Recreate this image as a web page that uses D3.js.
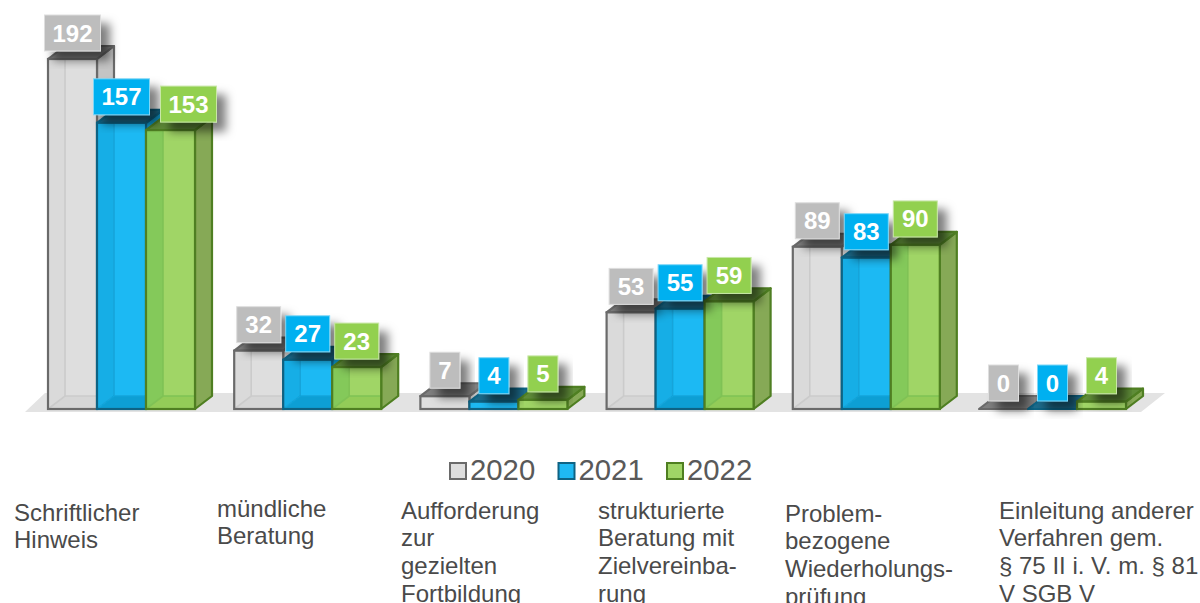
<!DOCTYPE html>
<html><head><meta charset="utf-8">
<script src="https://cdnjs.cloudflare.com/ajax/libs/d3/7.8.5/d3.min.js"></script>
<style>html,body{margin:0;padding:0;background:#fff}svg{display:block}
text{font-family:"Liberation Sans",Arial,sans-serif}</style></head>
<body><svg id="c" width="1200" height="603"></svg>
<script>
const categories=["Schriftlicher Hinweis","mündliche Beratung","Aufforderung zur gezielten Fortbildung","strukturierte Beratung mit Zielvereinbarung","Problembezogene Wiederholungsprüfung","Einleitung anderer Verfahren"];
const categoryLines=[["Schriftlicher","Hinweis"],["mündliche","Beratung"],["Aufforderung","zur","gezielten","Fortbildung"],["strukturierte","Beratung mit","Zielvereinba-","rung"],["Problem-","bezogene","Wiederholungs-","prüfung"],["Einleitung anderer","Verfahren gem.","§ 75 II i. V. m. § 81","V SGB V"]];
const years=["2020","2021","2022"];
const values2020=[192,32,7,53,89,0];
const values2021=[157,27,4,55,83,0];
const values2022=[153,23,5,59,90,4];
const series=[values2020,values2021,values2022];
const palette={
 "2020":{front:"#dedede",left:"#dadada",floor:"#d6d6d6",inner:"#cbcbcb",side:"#c4c4c4",top:"#7f7f7f",stroke:"#6a6a6a",label:"#bdbdbd",edge:"#dedede"},
 "2021":{front:"#1fb9f3",left:"#14aee6",floor:"#109fd4",inner:"#12a4da",side:"#1095c8",top:"#1a6a8a",stroke:"#0f6384",label:"#00b0f0",edge:"#7fd7f7"},
 "2022":{front:"#a0d566",left:"#84c95a",floor:"#93cc58",inner:"#7fc255",side:"#86a956",top:"#5f8c38",stroke:"#4f7f21",label:"#92d050",edge:"#c8e7a7"}
};
const svg=d3.select("#c");
const defs=svg.append("defs");
const f=defs.append("filter").attr("id","sh").attr("x","-40%").attr("y","-40%").attr("width","190%").attr("height","190%");
f.append("feDropShadow").attr("dx",9).attr("dy",9).attr("stdDeviation",5).attr("flood-color","#000").attr("flood-opacity",.5);
const soft=defs.append("filter").attr("id","soft").attr("x","-5%").attr("y","-5%").attr("width","110%").attr("height","110%");
soft.append("feGaussianBlur").attr("stdDeviation",.45);

const x0=d3.scaleBand().domain(d3.range(categories.length)).range([6.5,1123.7]);
const x1=d3.scaleBand().domain(years).range([41.5,41.5+147]);
const y=d3.scaleLinear().domain([0,192]).range([409,59]);
const dx=17,dy=-13;

const base=y(0);
svg.append("path").attr("d",d3.line()([[25,412],[45,393],[1165,393],[1141,412]])+"Z").attr("fill","#e3e3e3");

const marks=svg.append("g").attr("filter","url(#soft)");
const poly=d3.line();
categories.forEach((c,i)=>{
  years.forEach((yr,s)=>{
    const v=series[s][i],p=palette[yr],xl=x0(i)+x1(yr),w=x1.bandwidth(),xr=xl+w,t=y(v);
    const g=marks.append("g");
    const sw=2.2;
    const face=(pts,fill)=>g.append("path").attr("d",poly(pts)+"Z").attr("fill",fill).attr("stroke",p.stroke).attr("stroke-width",sw).attr("stroke-linejoin","round");
    face([[xr,base],[xr+dx,base+dy],[xr+dx,t+dy],[xr,t]],p.side);
    face([[xl,t],[xl+dx,t+dy],[xr+dx,t+dy],[xr,t]],p.top);
    g.append("rect").attr("x",xl).attr("y",t).attr("width",w).attr("height",base-t).attr("fill",p.front);
    if(base-t>Math.abs(dy)){
      g.append("path").attr("d",poly([[xl,t],[xl+dx,t],[xl+dx,base+dy],[xl,base]])+"Z").attr("fill",p.left);
      g.append("path").attr("d",poly([[xl,base],[xl+dx,base+dy],[xr,base+dy],[xr,base]])+"Z").attr("fill",p.floor);
      g.append("path").attr("d",poly([[xl+dx,t],[xl+dx,base+dy]])).attr("fill","none").attr("stroke",p.inner).attr("stroke-width",1.6);
      g.append("path").attr("d",poly([[xl,base],[xl+dx,base+dy],[xr,base+dy]])).attr("fill","none").attr("stroke",p.inner).attr("stroke-width",1.6);
    }
    g.append("rect").attr("x",xl).attr("y",t).attr("width",w).attr("height",base-t).attr("fill","none").attr("stroke",p.stroke).attr("stroke-width",sw);
  });
});
const shifted={series:2,category:0,by:18};
const labels=svg.append("g");
const labelW=v=>String(v).length===3?56:String(v).length===2?44:30;
categories.forEach((c,i)=>{
  years.forEach((yr,s)=>{
    const v=series[s][i],p=palette[yr],cx=x0(i)+x1(yr)+x1.bandwidth()/2+((s===shifted.series&&i===shifted.category)?shifted.by:0),cy=y(v)-26,w=labelW(v);
    const g=labels.append("g");
    g.append("rect").attr("x",cx-w/2).attr("y",cy-18).attr("width",w).attr("height",36).attr("fill",p.label).attr("stroke",p.edge).attr("stroke-width",1).attr("filter","url(#sh)");
    g.append("text").attr("x",cx).attr("y",cy+8.5).attr("text-anchor","middle").attr("font-size",24).attr("font-weight","bold").attr("fill","#fff").text(v);
  });
});
const lx=d3.scalePoint().domain(years).range([449,666]);
years.forEach(yr=>{
  const p=palette[yr];
  svg.append("rect").attr("x",lx(yr)+1).attr("y",463).attr("width",16).attr("height",16).attr("fill",p.front).attr("stroke",p.stroke).attr("stroke-width",2);
  svg.append("text").attr("x",lx(yr)+21).attr("y",480).attr("font-size",29.3).attr("fill","#595959").text(yr);
});
const catX=[14,217,401,598,785,999];
const catY=[520.5,516.5,518.5,518.5,521.5,518.5];
categoryLines.forEach((ls,i)=>{
  const t=svg.append("text").attr("font-size",24).attr("fill","#4a4a4a");
  ls.forEach((l,j)=>t.append("tspan").attr("x",catX[i]).attr("y",catY[i]+j*27.8).text(l));
});
</script></body></html>
